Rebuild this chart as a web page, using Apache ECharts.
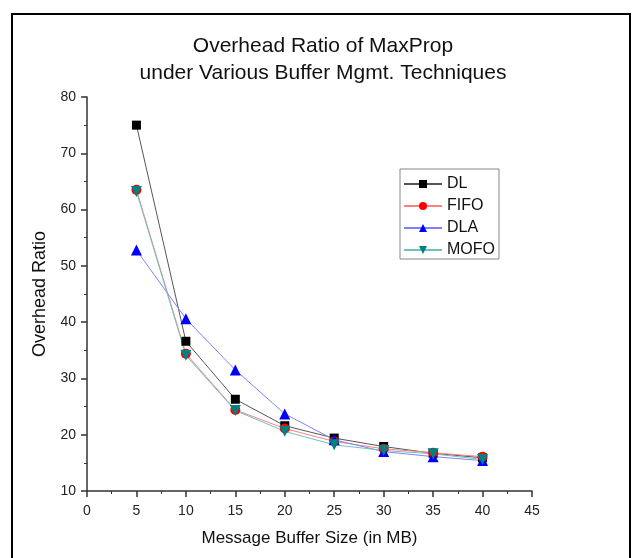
<!DOCTYPE html>
<html>
<head>
<meta charset="utf-8">
<script src="https://cdn.jsdelivr.net/npm/echarts@6/dist/echarts.min.js"></script>
<style>
  html, body { margin: 0; padding: 0; background: #fff; }
  #chart { width: 639px; height: 558px; }
</style>
</head>
<body>
<div id="chart"></div>
<script>
const bufferSizes = [5, 10, 15, 20, 25, 30, 35, 40];
const dl = [75.0, 36.6, 26.3, 21.6, 19.4, 17.9, 16.7, 15.9];
const fifo = [63.5, 34.4, 24.4, 21.1, 18.8, 17.5, 16.8, 16.1];
const dla = [52.8, 40.6, 31.5, 23.7, 19.1, 17.0, 16.1, 15.4];
const mofo = [63.2, 34.1, 24.3, 20.6, 18.2, 17.2, 16.6, 15.6];

const pairs = (ys) => bufferSizes.map((x, i) => [x, ys[i]]);

const font = "Liberation Sans, Arial, sans-serif";
const myChart = echarts.init(document.getElementById("chart"));

function makeSeries(name, data, symbol, color, lineColor, size, rotate) {
  return {
    name: name,
    type: "line",
    data: pairs(data),
    symbol: symbol,
    symbolSize: size,
    symbolRotate: rotate || 0,
    showAllSymbol: true,
    animation: false,
    itemStyle: { color: color },
    lineStyle: { color: lineColor, width: 1 },
  };
}

myChart.setOption({
  animation: false,
  title: {
    text: "Overhead Ratio of MaxProp\nunder Various Buffer Mgmt. Techniques",
    left: 318,
    textAlign: "center",
    top: 28,
    textStyle: { fontFamily: font, fontWeight: "normal", fontSize: 21, lineHeight: 27, color: "#111" },
  },
  legend: {
    orient: "vertical",
    left: 400,
    top: 169,
    itemWidth: 38,
    itemHeight: 10,
    itemGap: 6,
    padding: [7, 4, 1, 3],
    borderColor: "#888",
    borderWidth: 1,
    textStyle: { fontFamily: font, fontSize: 16, color: "#111" },
    data: ["DL", "FIFO", "DLA", "MOFO"],
  },
  graphic: [
    {
      type: "rect",
      shape: { x: 12, y: 14, width: 618, height: 560 },
      style: { fill: "none", stroke: "#000", lineWidth: 2 },
      silent: true,
    },
  ],
  grid: { left: 87, right: 107, top: 97, bottom: 67 },
  xAxis: {
    type: "value",
    min: 0,
    max: 45,
    interval: 5,
    name: "Message Buffer Size (in MB)",
    nameLocation: "middle",
    nameGap: 39,
    nameTextStyle: { fontFamily: font, fontSize: 17, color: "#111" },
    axisLine: { lineStyle: { color: "#333", width: 1.5 } },
    axisTick: { inside: false, length: 6, lineStyle: { color: "#333", width: 1.5 } },
    minorTick: { show: true, splitNumber: 2, length: 3, lineStyle: { color: "#333" } },
    axisLabel: { fontFamily: font, fontSize: 14, color: "#222", margin: 13 },
    splitLine: { show: false },
  },
  yAxis: {
    type: "value",
    min: 10,
    max: 80,
    interval: 10,
    name: "Overhead Ratio",
    nameLocation: "middle",
    nameGap: 35,
    nameTextStyle: { fontFamily: font, fontSize: 18, color: "#111" },
    axisLine: { show: true, lineStyle: { color: "#333", width: 1.5 } },
    axisTick: { show: true, inside: false, length: 6, lineStyle: { color: "#333", width: 1.5 } },
    minorTick: { show: true, splitNumber: 2, length: 3, lineStyle: { color: "#333" } },
    axisLabel: { fontFamily: font, fontSize: 14, color: "#222", margin: 11 },
    splitLine: { show: false },
  },
  series: [
    makeSeries("DL", dl, "rect", "#000", "#555", 9),
    makeSeries("FIFO", fifo, "circle", "#ff0000", "#ff8080", 10),
    makeSeries("DLA", dla, "triangle", "#0000ff", "#8080ff", 11),
    makeSeries("MOFO", mofo, "triangle", "#008080", "#70c0c0", 11, 180),
  ],
});
</script>
</body>
</html>
